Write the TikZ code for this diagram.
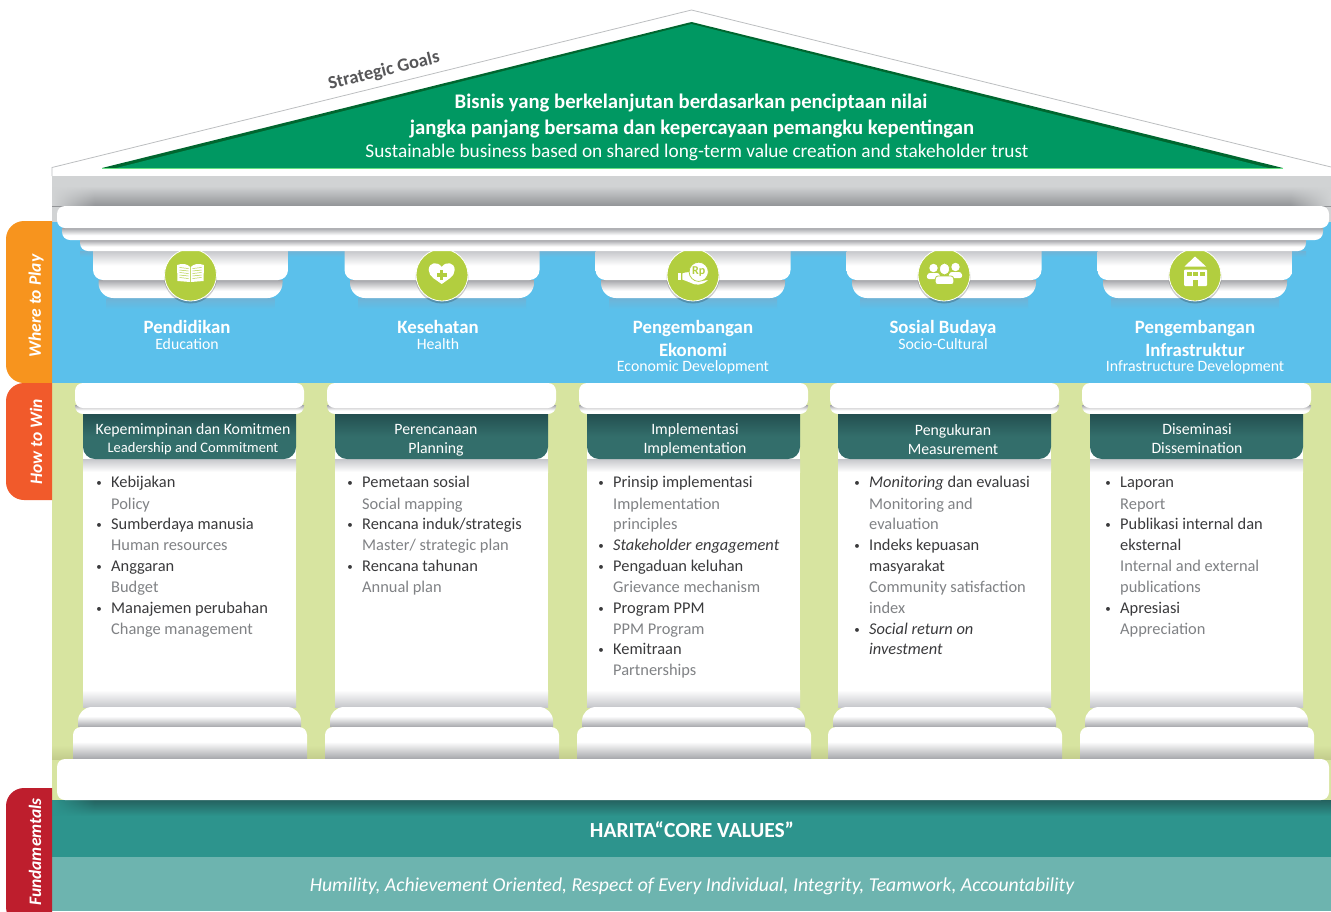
\documentclass[tikz,border=0pt]{standalone}
\usepackage{fontspec}
\setmainfont{Carlito}
\usetikzlibrary{calc, math, arrows.meta, fadings}

\definecolor{roofline}{HTML}{BCBEC0}
\definecolor{roofgreen}{HTML}{009862}
\definecolor{roofdark}{HTML}{00662F}
\definecolor{frieze}{HTML}{D1D3D4}
\definecolor{friezedark}{HTML}{929497}
\definecolor{skyblue}{HTML}{5BC0EB}
\definecolor{skyshade}{HTML}{6FB3D6}
\definecolor{limebg}{HTML}{D7E4A0}
\definecolor{limeshade}{HTML}{C2CC8C}
\definecolor{iconlime}{HTML}{B2CE3F}
\definecolor{headteal}{HTML}{336E6B}
\definecolor{headdark}{HTML}{234F50}
\definecolor{coreteal}{HTML}{2D948D}
\definecolor{coredark}{HTML}{24625F}
\definecolor{softteal}{HTML}{6DB4AF}
\definecolor{taborange}{HTML}{F7941E}
\definecolor{tabflame}{HTML}{F15A2B}
\definecolor{tabred}{HTML}{BE1E2D}
\definecolor{shadegray}{HTML}{A5A6AA}
\definecolor{shaftgray}{HTML}{C6C7CB}
\definecolor{textdark}{HTML}{3A3A3C}
\definecolor{textgray}{HTML}{808285}

% the path's box takes up 25bp to 75bp of these shadings
\pgfdeclareverticalshading{topdark}{100bp}{color(0bp)=(white);color(45bp)=(white);color(75bp)=(shadegray);color(100bp)=(shadegray)}
\pgfdeclareverticalshading{topsoft}{100bp}{color(0bp)=(white);color(50bp)=(white);color(75bp)=(shaftgray);color(100bp)=(shaftgray)}
\pgfdeclareverticalshading{botdark}{100bp}{color(0bp)=(shadegray);color(25bp)=(shadegray);color(52bp)=(white);color(100bp)=(white)}
\tikzfading[name=fadeeast, left color=transparent!0, right color=transparent!100]
\tikzfading[name=fadewest, left color=transparent!100, right color=transparent!0]

% block with two rounded corners on the side of y2
\newcommand{\capblock}[6]{\path[#1,rounded corners=#6pt] (#2,#3) -- (#2,#5) -- (#4,#5) -- (#4,#3);}
\newcommand{\fsz}[1]{\fontsize{#1}{#1}\selectfont}

\tikzset{
    topshade/.style={shade,shading=topdark},
    softshade/.style={shade,shading=topsoft},
    botshade/.style={shade,shading=botdark},
    whiteslab/.style={fill=white,rounded corners=8pt},
    iconball/.style={circle,fill=iconlime,draw=white,line width=0.8pt,minimum size=52pt,inner sep=0pt},
    goalid/.style={text=white,font=\fsz{20.7}\bfseries,inner sep=0pt,text height=13pt,text depth=4pt,yshift=-3pt},
    goalen/.style={text=white,font=\fsz{19.3},inner sep=0pt,text height=13pt,text depth=4pt,yshift=-2pt},
    areaid/.style={text=white,font=\fsz{18.8}\bfseries,inner sep=0pt,text height=12pt,text depth=4pt,yshift=-2pt},
    areaen/.style={text=white,font=\fsz{15.8},inner sep=0pt,text height=10pt,text depth=3pt,yshift=-2pt},
    headtext/.style={text=white,font=\fsz{15.8},inner sep=0pt,text height=10pt,text depth=3pt,yshift=-2pt},
    tabtext/.style={text=white,rotate=90,font=\fsz{17.5}\bfseries\itshape,inner sep=0pt},
    itemid/.style={anchor=west,inner sep=0pt,text height=10pt,text depth=3pt,text=textdark,font=\fsz{16.4}},
    itemen/.style={itemid,text=textgray},
    itembul/.style={itemid,label={[label distance=9pt,text=textdark,inner sep=0pt,font=\fsz{11}]left:•}},
}

\begin{document}
\begin{tikzpicture}[x=1pt,y=-1pt]
\useasboundingbox (0,0) rectangle (1331,911);

\draw[roofline,line width=0.8pt] (52,176) -- (52,167.5) -- (691.5,10) -- (1331,167);
\fill[roofdark] (102,168) -- (691.5,22) -- (1283,168) -- cycle;
\fill[roofgreen] (116,168) -- (691.5,24) -- (1269,168) -- cycle;
\draw[green!50!roofgreen!60,line width=0.8pt] (102,168) -- (1283,168);
\node[goalid] (goalone) at (691,101) {Bisnis yang berkelanjutan berdasarkan penciptaan nilai};
\node[goalid] (goaltwo) at (692,127) {jangka panjang bersama dan kepercayaan pemangku kepentingan};
\node[goalen] (goalthree) at (697,151) {Sustainable business based on shared long-term value creation and stakeholder trust};
\node[text=textdark!85,rotate=13.8,font=\fsz{18.5}\bfseries,inner sep=0pt] (goallabel) at (384,71) {Strategic Goals};

\fill[frieze] (52,176) rectangle (1331,222);
\shade[top color=frieze,bottom color=friezedark] (52,186) rectangle (1331,206);
\fill[frieze,path fading=fadeeast] (52,186) rectangle (95,206);
\fill[frieze,path fading=fadewest] (1290,186) rectangle (1331,206);

\fill[skyblue] (52,222) rectangle (1331,383);
\shade[top color=skyshade,bottom color=skyblue] (80,251) rectangle (1306,257);
\foreach \x in {190.5,442,693,944,1195}{
    \shade[top color=skyshade,bottom color=skyblue] (\x-84,298) rectangle (\x+84,309);
    \capblock{topshade}{\x-92}{280}{\x+92}{298}{15}
    \capblock{softshade}{\x-97.5}{251}{\x+97.5}{280}{10}
    \fill[black,opacity=0.2] (\x,277) circle (26.5);
    \node[iconball] (ball\x) at (\x,275) {};
}

% book
\begin{scope}[shift={(190.5,275)}]
    \fill[white] (-13.5,-10) .. controls (-8,-12) and (-3,-11) .. (-0.3,-8) -- (-0.3,7) -- (-13,6) -- cycle;
    \fill[white] (13.5,-10) .. controls (8,-12) and (3,-11) .. (0.3,-8) -- (0.3,7) -- (13,6) -- cycle;
    \foreach \l in {-6.5,-4,-1.5,1,3.5}{
        \draw[iconlime,line width=0.5pt] (-11,\l-1) -- (-2,\l);
        \draw[iconlime,line width=0.5pt] (11,\l-1) -- (2,\l);
    }
\end{scope}
% heart
\begin{scope}[shift={(441.7,273)}]
    \fill[white] (0,-6) .. controls (-4,-12) and (-13,-11) .. (-13,-3) .. controls (-13,4) and (-5,7) .. (0,11)
        .. controls (5,7) and (13,4) .. (13,-3) .. controls (13,-11) and (4,-12) .. (0,-6) -- cycle;
    \fill[iconlime] (-1.7,-3) rectangle (1.7,7);
    \fill[iconlime] (-5,0.3) rectangle (5,3.7);
\end{scope}
% hand with coin
\begin{scope}[shift={(693,275)}]
    \fill[white] (-15,-2) rectangle (-11.7,4.5);
    \fill[white] (-10.7,-1.5) .. controls (-6,-3.5) and (-3,-3) .. (0,-1.5) -- (2.5,0)
        .. controls (3.5,2) and (0,2.5) .. (-3,2) .. controls (0,4.5) and (6,7) .. (15,5)
        .. controls (9,11) and (2,10.5) .. (-3,7.5) -- (-10.7,4.5) -- cycle;
    \filldraw[white,draw=iconlime,line width=0.7pt] (5.7,-3.2) circle (9.6);
    \node[text=iconlime,font=\fsz{12}\bfseries,inner sep=0pt] (coin) at (5.7,-3.2) {Rp};
\end{scope}
% people
\begin{scope}[shift={(944.5,275)}]
    \fill[white] (-11,-7) circle (4.2);
    \fill[white] (11,-8) circle (4.2);
    \fill[white,rounded corners=2.5pt] (-18,4) -- (-17,-2) -- (-5,-2) -- (-4,4) -- cycle;
    \fill[white,rounded corners=2.5pt] (4,3) -- (5,-3) -- (17,-3) -- (18,3) -- cycle;
    \fill[white,draw=iconlime,line width=0.8pt] (0,-6) ellipse (5 and 6);
    \filldraw[white,draw=iconlime,line width=0.8pt,rounded corners=2.5pt] (-9.5,9.5) -- (-9,1) -- (9,1) -- (9.5,9.5) -- cycle;
\end{scope}
% house
\begin{scope}[shift={(1195,275)}]
    \fill[white] (0,-18.5) -- (11,-8.5) -- (-10.5,-8.5) -- cycle;
    \fill[white,rounded corners=1pt] (-11,-5.5) rectangle (12,11);
    \foreach \w in {-8,-2,5}{
        \fill[iconlime] (\w,-3.5) rectangle (\w+5,0.5);
    }
    \fill[iconlime] (-2.5,5) rectangle (3,11.5);
\end{scope}

\capblock{topshade}{80}{240}{1306}{251}{8}
\capblock{topshade}{62}{228}{1323}{240}{8}
\fill[whiteslab] (57,206) rectangle (1329,228);

\foreach \cx/\cy/\st/\txt [count=\i] in {
    187/327/areaid/Pendidikan, 187/344/areaen/Education,
    438/327/areaid/Kesehatan, 438/344/areaen/Health,
    693/327/areaid/Pengembangan, 693/350/areaid/Ekonomi, 693/366/areaen/Economic Development,
    943/327/areaid/Sosial Budaya, 943/344/areaen/Socio-Cultural,
    1195/327/areaid/Pengembangan, 1195/350/areaid/Infrastruktur, 1195/366/areaen/Infrastructure Development}{
    \node[\st] (area\i) at (\cx,\cy) {\txt};
}

\fill[limebg] (52,383) rectangle (1331,800);
\shade[top color=limebg,bottom color=limeshade] (52,745) rectangle (1331,759);
\foreach \x in {83,335,587,838,1090}{
    \fill[white] (\x,414) rectangle (\x+213,707);
    \shade[top color=shaftgray,bottom color=white] (\x,459) rectangle (\x+213,472);
    \shade[top color=white,bottom color=shaftgray] (\x,690) rectangle (\x+213,707);
    \capblock{topshade}{\x-8}{405}{\x+221}{414}{8}
    \fill[whiteslab] (\x-8,383) rectangle (\x+221,408);
    \capblock{top color=headdark,bottom color=headteal,middle color=headteal}{\x}{414}{\x+213}{459}{12}
    \capblock{botshade}{\x-5}{727}{\x+218}{707}{14}
    \capblock{botshade}{\x-10}{759}{\x+224}{727}{8}
}

\foreach \cx/\cy/\txt [count=\i] in {
    193/429/Kepemimpinan dan Komitmen, 193/447/\fsz{14.5}Leadership and Commitment,
    436/429/Perencanaan, 436/448/Planning,
    695/429/Implementasi, 695/448/Implementation,
    953/430/Pengukuran, 953/449/Measurement,
    1197/429/Diseminasi, 1197/448/Dissemination}{
    \node[headtext] (head\i) at (\cx,\cy) {\txt};
}

\foreach \tx/\ty/\st/\txt [count=\i] in {
    111/484/itembul/Kebijakan, 111/506/itemen/Policy,
    111/526/itembul/Sumberdaya manusia, 111/547/itemen/Human resources,
    111/568/itembul/Anggaran, 111/589/itemen/Budget,
    111/610/itembul/Manajemen perubahan, 111/631/itemen/Change management,
    362/484/itembul/Pemetaan sosial, 362/506/itemen/Social mapping,
    362/526/itembul/{Rencana induk/strategis}, 362/547/itemen/{Master/ strategic plan},
    362/568/itembul/Rencana tahunan, 362/589/itemen/Annual plan,
    613/484/itembul/Prinsip implementasi, 613/506/itemen/Implementation, 613/526/itemen/principles,
    613/547/itembul/\textit{Stakeholder engagement},
    613/568/itembul/Pengaduan keluhan, 613/589/itemen/Grievance mechanism,
    613/610/itembul/Program PPM, 613/631/itemen/PPM Program,
    613/651/itembul/Kemitraan, 613/672/itemen/Partnerships,
    869/484/itembul/\textit{Monitoring} dan evaluasi, 869/506/itemen/Monitoring and, 869/526/itemen/evaluation,
    869/547/itembul/Indeks kepuasan, 869/568/itemid/masyarakat,
    869/589/itemen/Community satisfaction, 869/610/itemen/index,
    869/631/itembul/\textit{Social return on}, 869/651/itemid/\textit{investment},
    1120/484/itembul/Laporan, 1120/506/itemen/Report,
    1120/526/itembul/Publikasi internal dan, 1120/547/itemid/eksternal,
    1120/568/itemen/Internal and external, 1120/589/itemen/publications,
    1120/610/itembul/Apresiasi, 1120/631/itemen/Appreciation}{
    \node[\st] (item\i) at (\tx,\ty) {\txt};
}

\fill[coreteal] (52,800) rectangle (1331,857);
\shade[top color=coredark,bottom color=coreteal] (52,800) rectangle (1331,816);
\fill[coreteal,path fading=fadeeast] (52,800) rectangle (95,816);
\fill[softteal] (52,857) rectangle (1331,911);
\fill[whiteslab] (57,759) rectangle (1329,800);
\node[text=white,font=\fsz{21.5}\bfseries,inner sep=0pt] (corevalues) at (692,830) {HARITA“CORE VALUES”};
\node[text=white,font=\fsz{19.7}\itshape,inner sep=0pt] (valuelist) at (692,886) {Humility, Achievement Oriented, Respect of Every Individual, Integrity, Teamwork, Accountability};

\fill[taborange,rounded corners=18pt] (52,221) -- (6,221) -- (6,383) -- (52,383);
\fill[tabflame,rounded corners=18pt] (52,383) -- (6,383) -- (6,500) -- (52,500);
\fill[tabred,rounded corners=18pt] (52,788) -- (6,788) -- (6,925) -- (52,925);
\node[tabtext] (tabplay) at (36,306) {Where to Play};
\node[tabtext] (tabwin) at (36,442) {How to Win};
\node[tabtext] (tabfund) at (35,852) {Fundamemtals};
\end{tikzpicture}
\end{document}
